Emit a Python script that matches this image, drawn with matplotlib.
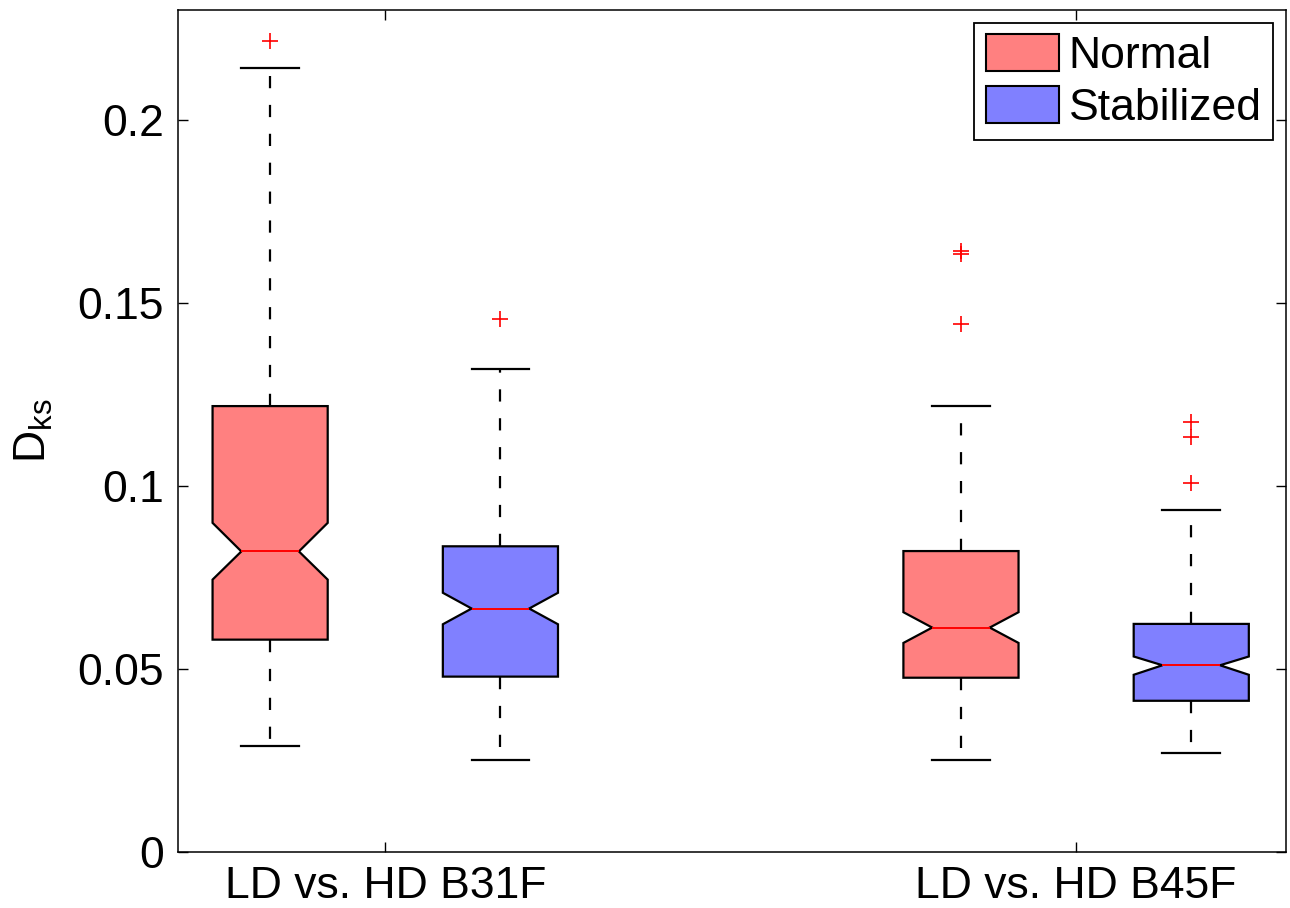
import numpy as np
import matplotlib
matplotlib.use("Agg")
import matplotlib.pyplot as plt
from matplotlib.patches import Patch

plt.rcParams['font.family'] = ['Liberation Sans', 'DejaVu Sans']
plt.rcParams['mathtext.fontset'] = 'custom'
plt.rcParams['mathtext.rm'] = 'Liberation Sans'
plt.rcParams['mathtext.it'] = 'Liberation Sans:italic'

# K-S distance statistics per comparison (Normal / Stabilized)
groups = ['LD vs. HD B31F', 'LD vs. HD B45F']
series = ['Normal', 'Stabilized']
colors = ['#FF8080', '#8080FF']

whislo = [[0.0290, 0.0251], [0.0251, 0.0270]]
q1 = [[0.0580, 0.0479], [0.0476, 0.0413]]
cilo = [[0.0744, 0.0622], [0.0571, 0.0484]]
med = [[0.0821, 0.0665], [0.0613, 0.0510]]
cihi = [[0.0899, 0.0708], [0.0655, 0.0534]]
q3 = [[0.1218, 0.0835], [0.0822, 0.0623]]
whishi = [[0.2142, 0.1319], [0.1217, 0.0935]]
fliers = [[[0.2215], [0.1455]],
          [[0.1443, 0.1633, 0.1642], [0.1008, 0.1133, 0.1175]]]

fig = plt.figure(figsize=(12.9, 9.08), dpi=100)
ax = fig.add_axes([0.138, 0.0617, 0.859, 0.9273])

offset = 1 / 6.
width = 1 / 6.
for g in range(len(groups)):
    for s in range(len(series)):
        stats = [dict(whislo=whislo[g][s], q1=q1[g][s], cilo=cilo[g][s], med=med[g][s],
                      cihi=cihi[g][s], q3=q3[g][s], whishi=whishi[g][s],
                      fliers=np.array(fliers[g][s]))]
        pos = g + 1 + (s - 0.5) * 2 * offset
        ax.bxp(stats, positions=[pos], widths=width, shownotches=True, patch_artist=True,
               boxprops=dict(facecolor=colors[s], edgecolor='black', linewidth=1.6),
               medianprops=dict(color='red', linewidth=1.4),
               whiskerprops=dict(color='black', linewidth=1.6, linestyle=(0, (5.5, 7.5))),
               capprops=dict(color='black', linewidth=1.6),
               flierprops=dict(marker='+', markeredgecolor='red', markersize=12,
                               markeredgewidth=1.2, linestyle='none'),
               manage_ticks=False)

ax.set_xlim(0.7, 2.304)
ax.set_ylim(0, 0.23)
ax.set_xticks([1, 2])
ax.set_xticklabels(groups)
ax.set_yticks([0, 0.05, 0.1, 0.15, 0.2])
ax.set_yticklabels(['0', '0.05', '0.1', '0.15', '0.2'])
ax.tick_params(direction='in', length=7, width=1, labelsize=32,
               top=True, right=True, pad=10)
for sp in ax.spines.values():
    sp.set_linewidth(1.1)
ax.set_ylabel(r'D$_{\rm ks}$', fontsize=32, labelpad=16)

handles = [Patch(facecolor=c, edgecolor='black', linewidth=1.5) for c in colors]
leg = ax.legend(handles, series, loc='upper right', fontsize=32, fancybox=False,
                edgecolor='black', framealpha=1, handlelength=1.65, handleheight=0.9,
                handletextpad=0.22, labelspacing=0.2, borderpad=0.25, borderaxespad=0.3)
leg.get_frame().set_linewidth(1.3)

plt.savefig('out.png', dpi=100)
